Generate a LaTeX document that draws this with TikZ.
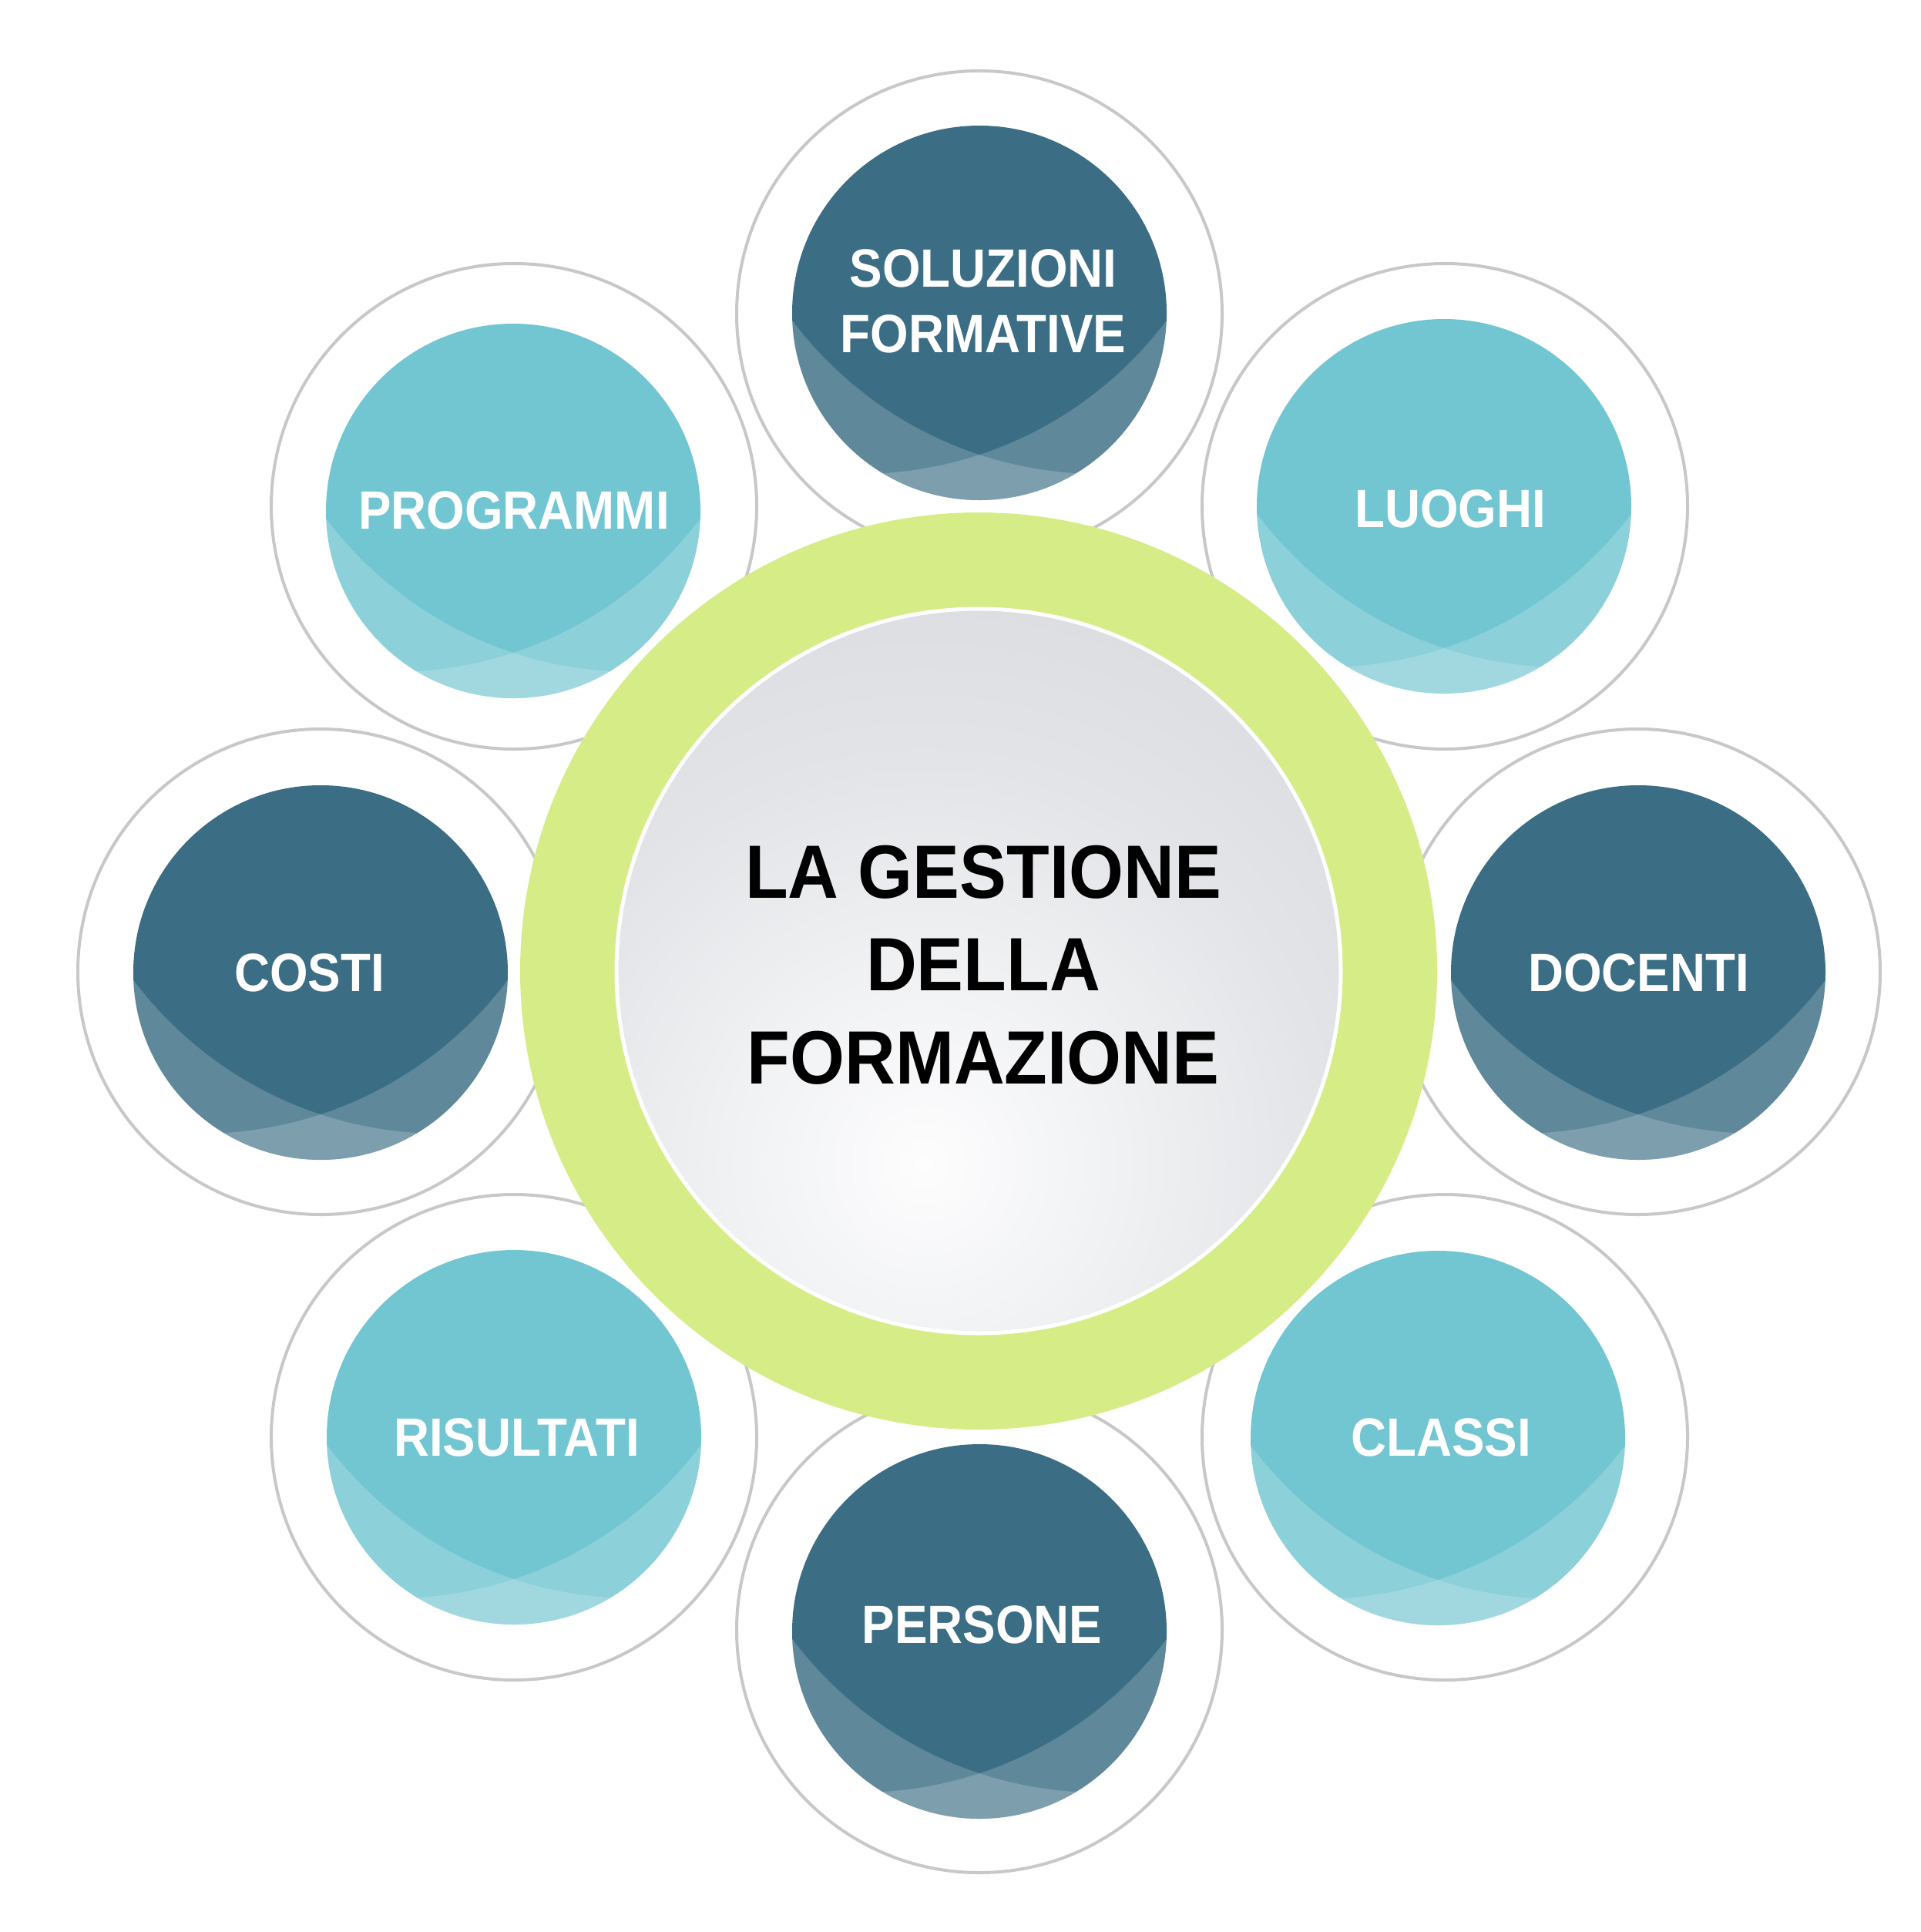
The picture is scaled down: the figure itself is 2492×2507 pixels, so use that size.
\documentclass[tikz,border=0pt]{standalone}
\usepackage{fontspec}
\newfontfamily\labfont[FakeStretch=0.91]{Liberation Sans}
\newfontfamily\corefont[FakeStretch=0.93]{Liberation Sans}
\usetikzlibrary{calc}
\definecolor{ringgray}{RGB}{200,200,200}
\definecolor{ringgreen}{RGB}{214,236,134}
\definecolor{darkteal}{RGB}{59,110,132}
\definecolor{lightteal}{RGB}{114,198,210}
\definecolor{g0}{RGB}{253,253,254}
\definecolor{g1}{RGB}{240,241,243}
\definecolor{g2}{RGB}{226,228,231}
\definecolor{g3}{RGB}{214,216,220}
\definecolor{g4}{RGB}{203,205,209}
\definecolor{g5}{RGB}{199,201,205}
\pgfdeclareradialshading{ballshade}{\pgfpoint{0bp}{0bp}}{color(0bp)=(g0); color(8.3bp)=(g1); color(16.7bp)=(g2); color(30bp)=(g3); color(46bp)=(g4); color(50bp)=(g5)}
\tikzset{
  outerring/.style={circle, draw=ringgray, line width=4pt, minimum size=630pt, inner sep=0pt},
  innerdisk/.style={circle, minimum size=486pt, inner sep=0pt},
  wave/.style={fill=white, fill opacity=0.19},
  satlabel/.style={text=white, font=\labfont\bfseries\fontsize{70}{85}\selectfont, align=center, inner sep=0pt},
  corelabel/.style={text=black, font=\corefont\bfseries\fontsize{98}{120.5}\selectfont, align=center, inner sep=0pt},
}
\newcommand\satel[7]{%
  \node[innerdisk, fill=#4] (#1) at (#2,-#3) {};
  \begin{scope}
    \clip (#1.center) circle (243);
    \fill[wave, even odd rule] ($(#1.center)+(-250,-250)$) rectangle ($(#1.center)+(250,250)$) ($(#1.center)+(156,290)$) circle (499);
    \fill[wave, even odd rule] ($(#1.center)+(-250,-250)$) rectangle ($(#1.center)+(250,250)$) ($(#1.center)+(-156,290)$) circle (499);
  \end{scope}
  \node[satlabel] (#1-t) at (#5,-#6) {#7};
}
\begin{document}
\begin{tikzpicture}[x=1pt,y=1pt]
\useasboundingbox (0,0) rectangle (2492,-2507);
% outer rings
\node[outerring] (o-sol) at (1271,-407) {};
\node[outerring] (o-luo) at (1875,-657) {};
\node[outerring] (o-doc) at (2125,-1261) {};
\node[outerring] (o-cla) at (1875,-1865) {};
\node[outerring] (o-per) at (1271,-2115) {};
\node[outerring] (o-ris) at (667,-1865) {};
\node[outerring] (o-cos) at (416,-1261) {};
\node[outerring] (o-pro) at (667,-657) {};
% central disc
\node[circle, minimum size=1190pt, inner sep=0pt, fill=ringgreen] (ring) at (1270,-1260) {};
\begin{scope}
  \clip (1270,-1260) circle (470);
  \shade[shading=ballshade] (420,-2290) rectangle (1980,-730);
\end{scope}
\node[circle, minimum size=940pt, inner sep=0pt, draw=white, line width=5pt] (core) at (1270,-1260) {};
\node[corelabel] (core-t) at (1276,-1252) {LA GESTIONE\\DELLA\\FORMAZIONE};
% satellites
\satel{sol}{1271}{406}{darkteal}{1276}{390.5}{SOLUZIONI\\FORMATIVE}
\satel{luo}{1874}{657}{lightteal}{1882}{660}{LUOGHI}
\satel{doc}{2126}{1262}{darkteal}{2126.5}{1262}{DOCENTI}
\satel{cla}{1866}{1866}{lightteal}{1870}{1865}{CLASSI}
\satel{per}{1271}{2117}{darkteal}{1274.5}{2108.5}{PERSONE}
\satel{ris}{667}{1865}{lightteal}{670.5}{1865.5}{RISULTATI}
\satel{cos}{416}{1262}{darkteal}{401.5}{1262.5}{COSTI}
\satel{pro}{666}{663}{lightteal}{667}{662}{PROGRAMMI}
\end{tikzpicture}
\end{document}
